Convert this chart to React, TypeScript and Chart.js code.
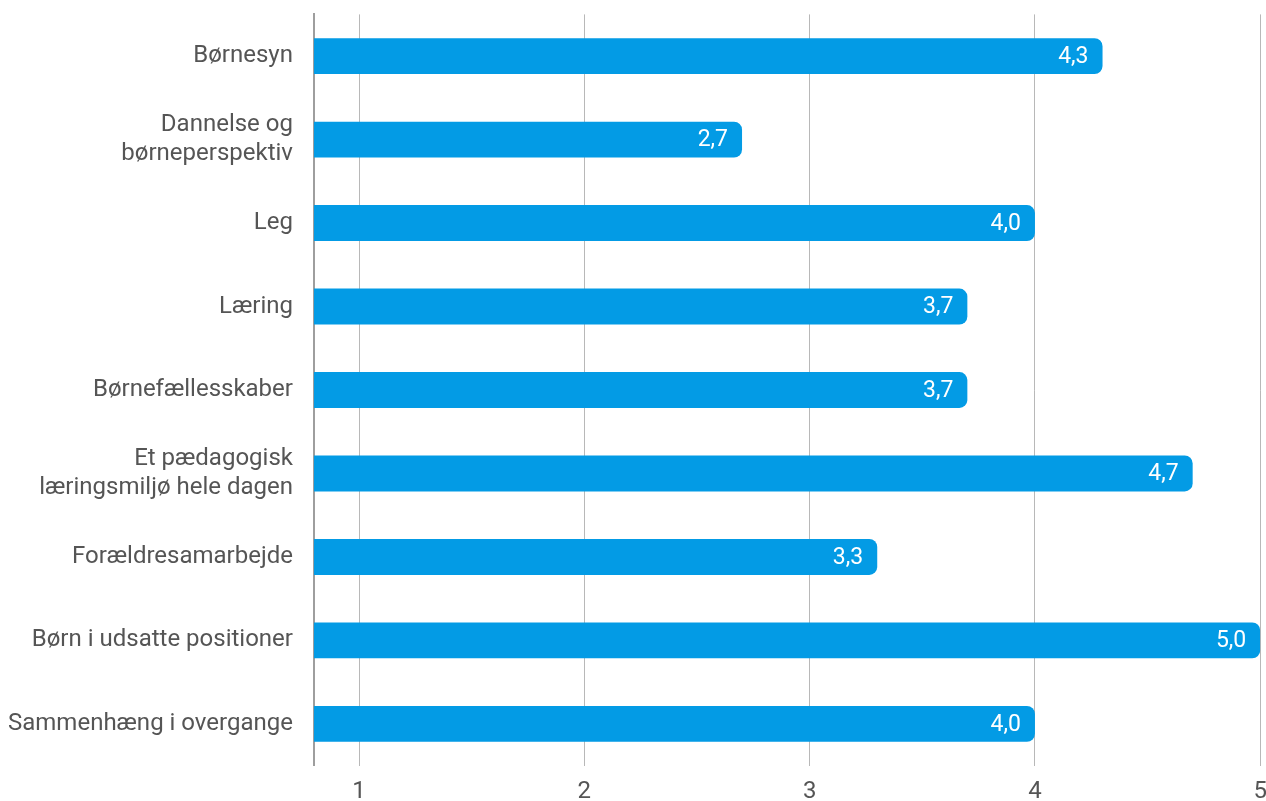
import React, { useEffect, useRef } from 'react';
import Chart from 'chart.js/auto';

const categories: (string | string[])[] = [
    'Børnesyn',
    ['Dannelse og', 'børneperspektiv'],
    'Leg',
    'Læring',
    'Børnefællesskaber',
    ['Et pædagogisk', 'læringsmiljø hele dagen'],
    'Forældresamarbejde',
    'Børn i udsatte positioner',
    'Sammenhæng i overgange',
];
const scores = [4.3, 2.7, 4.0, 3.7, 3.7, 4.7, 3.3, 5.0, 4.0];
const tickValues = [1, 2, 3, 4, 5];

const FONT = 'Roboto, "Noto Sans", sans-serif';

// writes the score inside the right end of each bar
const valueLabels = {
    id: 'valueLabels',
    afterDatasetsDraw(chart: any) {
        const ctx = chart.ctx;
        const meta = chart.getDatasetMeta(0);
        ctx.save();
        ctx.font = `23px ${FONT}`;
        ctx.fillStyle = '#ffffff';
        ctx.textAlign = 'right';
        ctx.textBaseline = 'middle';
        meta.data.forEach((bar: any, i: number) => {
            ctx.fillText(scores[i].toFixed(1).replace('.', ','), bar.x - 14, bar.y + 1);
        });
        ctx.restore();
    },
};

const App: React.FC = () => {
    const chartRef = useRef<HTMLCanvasElement>(null);
    const chartInstance = useRef<Chart | null>(null);

    useEffect(() => {
        document.body.style.margin = '0';
        document.body.style.overflow = 'hidden';
        if (!chartRef.current) return;
        if (chartInstance.current) chartInstance.current.destroy();

        chartInstance.current = new Chart(chartRef.current, {
            type: 'bar',
            data: {
                labels: categories,
                datasets: [{
                    data: scores,
                    backgroundColor: '#039be5',
                    borderRadius: { topRight: 8, bottomRight: 8, topLeft: 0, bottomLeft: 0 },
                    borderSkipped: false,
                    barPercentage: 0.43,
                    categoryPercentage: 1,
                }],
            },
            options: {
                indexAxis: 'y',
                animation: false,
                responsive: true,
                maintainAspectRatio: false,
                layout: { padding: { top: 0, right: 0, bottom: -20, left: -13 } },
                plugins: {
                    legend: { display: false },
                    tooltip: { enabled: false },
                },
                scales: {
                    x: {
                        min: 0.8,
                        max: 5,
                        afterBuildTicks: (scale: any) => {
                            scale.ticks = tickValues.map(v => ({ value: v }));
                        },
                        grid: { color: '#b8b8b8', lineWidth: 1, drawTicks: false },
                        border: { display: false },
                        ticks: {
                            padding: 12,
                            color: '#555555',
                            font: { family: FONT, size: 24 },
                            callback: (v: any) => String(v),
                        },
                    },
                    y: {
                        grid: { display: false, drawTicks: false },
                        border: { display: true, color: '#9e9e9e', width: 2 },
                        ticks: {
                            padding: 21,
                            color: '#555555',
                            font: { family: FONT, size: 24 },
                        },
                    },
                },
            },
            plugins: [valueLabels],
        });

        return () => {
            if (chartInstance.current) {
                chartInstance.current.destroy();
                chartInstance.current = null;
            }
        };
    }, []);

    // canvas is a bit larger than the window so the plot area reaches the edges like the original
    return (
        <div style={{ position: 'absolute', left: 0, top: '-21px', width: '1279px', height: '822px' }}>
            <canvas ref={chartRef}></canvas>
        </div>
    );
};

export default App;
